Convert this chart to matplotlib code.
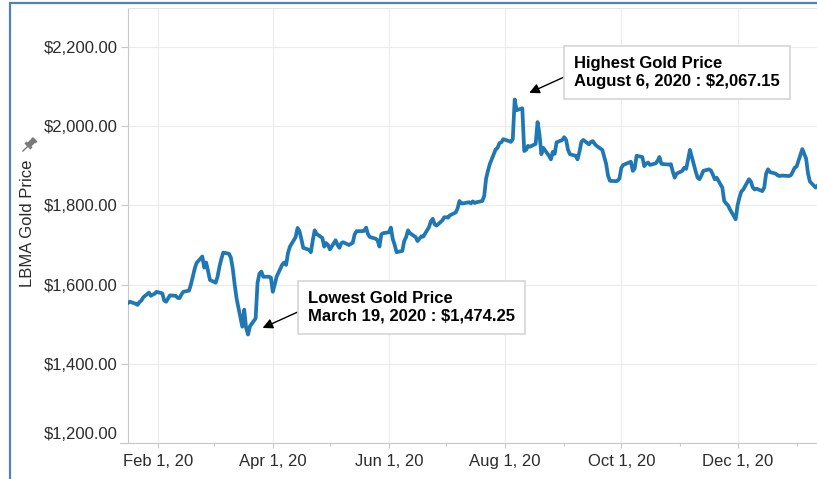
import matplotlib
matplotlib.use("Agg")
import matplotlib.pyplot as plt
import matplotlib.dates as mdates
from matplotlib.ticker import FixedLocator, FuncFormatter
from matplotlib.lines import Line2D
from matplotlib.patches import Rectangle
import pandas as pd

W, H, DPI = 817, 479, 100

plt.rcParams.update({
    "font.family": "sans-serif",
    "font.sans-serif": ["Liberation Sans", "Arial", "DejaVu Sans"],
    "font.size": 12,
    "text.color": "#333333",
    "xtick.color": "#c8c8c8",
    "ytick.color": "#c8c8c8",
    "xtick.labelcolor": "#2b2b2b",
    "ytick.labelcolor": "#2b2b2b",
})

# LBMA gold price (USD), one value per business day
jan_2020 = [1554, 1557, 1552, 1549, 1556, 1560, 1568, 1580, 1572, 1575, 1577, 1582]
feb_2020 = [1578, 1560, 1557, 1565, 1573, 1572, 1567, 1566, 1575, 1582,
            1585, 1600, 1620, 1640, 1655, 1671, 1643, 1656, 1635, 1612]
mar_2020 = [1605, 1620, 1645, 1665, 1681, 1678, 1668, 1640, 1600, 1565,
            1494, 1537, 1491, 1474.25, 1495, 1515, 1605, 1628, 1633, 1620,
            1620, 1618]
apr_2020 = [1582, 1600, 1620, 1651, 1656, 1650, 1680, 1696, 1720, 1743,
            1735, 1715, 1693, 1688, 1682, 1712, 1737, 1728, 1718, 1696,
            1705, 1700]
may_2020 = [1689, 1712, 1700, 1693, 1705, 1707, 1700, 1703, 1706, 1727,
            1735, 1735, 1736, 1744, 1727, 1720, 1716, 1712, 1696, 1727, 1730]
jun_2020 = [1732, 1744, 1715, 1700, 1682, 1685, 1710, 1720, 1737, 1730,
            1720, 1710, 1716, 1722, 1721, 1745, 1760, 1766, 1752, 1749,
            1762, 1770]
jul_2020 = [1770, 1769, 1775, 1782, 1792, 1811, 1805, 1805, 1808, 1805,
            1810, 1806, 1808, 1811, 1824, 1868, 1888, 1905, 1941, 1945,
            1957, 1959, 1967]
aug_2020 = [1962, 1960, 1967, 2067.15, 2040, 2045, 1937, 1940, 1950, 1948,
            1955, 2010, 1980, 1929, 1945, 1925, 1916, 1935, 1930, 1959, 1965]
sep_2020 = [1972, 1965, 1940, 1929, 1925, 1916, 1935, 1960, 1965, 1954,
            1960, 1962, 1955, 1950, 1940, 1922, 1905, 1875, 1862, 1861,
            1862, 1868]
oct_2020 = [1895, 1902, 1908, 1910, 1887, 1893, 1925, 1922, 1899, 1905,
            1908, 1902, 1906, 1912, 1922, 1905, 1904, 1903, 1904, 1885,
            1870, 1880]
nov_2020 = [1887, 1895, 1892, 1915, 1940, 1886, 1870, 1866, 1875, 1887,
            1891, 1888, 1878, 1866, 1870, 1845, 1811, 1805, 1800, 1790, 1765]
dec_2020 = [1800, 1820, 1835, 1840, 1866, 1860, 1845, 1840, 1842, 1836,
            1845, 1880, 1891, 1884, 1880, 1876, 1874, 1875, 1875, 1874,
            1876, 1885, 1895]
jan_2021 = [1898, 1942, 1930, 1918, 1880, 1860, 1845, 1850, 1855, 1850, 1840]

prices = (jan_2020 + feb_2020 + mar_2020 + apr_2020 + may_2020 + jun_2020 +
          jul_2020 + aug_2020 + sep_2020 + oct_2020 + nov_2020 + dec_2020 +
          jan_2021)
dates = pd.bdate_range("2020-01-16", "2021-01-15")
assert len(dates) == len(prices)

y_ticks = [1200, 1400, 1600, 1800, 2000, 2200]
low_date, low_price = pd.Timestamp("2020-03-19"), 1474.25
high_date, high_price = pd.Timestamp("2020-08-06"), 2067.15

fig = plt.figure(figsize=(W / DPI, H / DPI), dpi=DPI)
ax = fig.add_axes([127.7 / W, 1 - 443.3 / H, 1 - 127.7 / W, (443.3 - 8.3) / H])

ax.plot(dates, prices, color="#1f77b4", lw=2.7, solid_joinstyle="round", zorder=3)

ax.set_xlim(pd.Timestamp("2020-01-15 20:00"), pd.Timestamp("2021-01-11 17:00"))
ax.set_ylim(1200, 2297)

ax.yaxis.set_major_locator(FixedLocator(y_ticks))
ax.yaxis.set_major_formatter(FuncFormatter(lambda v, _: "" if v == 1200 else f"${v:,.2f}"))
ax.xaxis.set_major_locator(mdates.MonthLocator(bymonth=[2, 4, 6, 8, 10, 12]))
ax.xaxis.set_minor_locator(mdates.MonthLocator(bymonth=[1, 3, 5, 7, 9, 11]))
ax.xaxis.set_major_formatter(FuncFormatter(
    lambda v, _: (lambda d: f"{d:%b} {d.day}, {d:%y}")(mdates.num2date(v))))

ax.tick_params(axis="y", length=5, width=0.8, pad=2, labelsize=12)
ax.tick_params(axis="x", which="major", length=3.5, width=0.8, pad=4.5, labelsize=12)
ax.tick_params(axis="x", which="minor", length=2.5, width=0.8)

# Tableau keeps the bottom label inside the pane
ax.annotate("$1,200.00", xy=(0, 1200), xycoords=("axes fraction", "data"),
            xytext=(-7.3, 7.5), textcoords="offset points",
            ha="right", va="center_baseline", fontsize=12, color="#2b2b2b")

ax.grid(True, color="#ebebeb", lw=0.8, zorder=0)
ax.grid(False, which="minor")
ax.spines["right"].set_visible(False)
ax.spines["top"].set_color("#e4e4e4")
ax.spines["left"].set_color("#c8c8c8")
ax.spines["bottom"].set_color("#c8c8c8")
for s in ax.spines.values():
    s.set_linewidth(0.8)
ax.add_line(Line2D([-7.3 / 689.3, 0], [0, 0], transform=ax.transAxes,
                   color="#c8c8c8", lw=0.8, clip_on=False))

box = dict(boxstyle="square,pad=0.6", fc="white", ec="#d6d6d6", lw=1.2)
arrow = dict(arrowstyle="-|>", color="black", lw=1.0, mutation_scale=15,
             relpos=(0, 0.5), shrinkA=0, shrinkB=11.5)
ax.annotate("Lowest Gold Price\nMarch 19, 2020 : $1,474.25",
            xy=(low_date, low_price), xytext=(43, 19.5), textcoords="offset points",
            ha="left", va="center", fontweight="bold", color="black",
            bbox=box, arrowprops=arrow, zorder=5)
ax.annotate("Highest Gold Price\nAugust 6, 2020 : $2,067.15",
            xy=(high_date, high_price), xytext=(43, 19.5), textcoords="offset points",
            ha="left", va="center", fontweight="bold", color="black",
            bbox=box, arrowprops=arrow, zorder=5)

fig.text(27.5 / W, 1 - 223 / H, "LBMA Gold Price", rotation=90,
         ha="center", va="center", fontsize=12, color="#2b2b2b")

# small pin icon next to the axis title
def px(x, y):
    return x / W, 1 - y / H

pin = "#7a7a7a"
for (x0, y0), (x1, y1), lw in [((33.5, 140.5), (29, 145), 4.0),
                                ((25.5, 142.5), (31.5, 148.5), 2.2),
                                ((32, 138), (36.5, 142.5), 2.0),
                                ((28, 146), (22.5, 151.5), 1.0)]:
    (a, b), (c, d) = px(x0, y0), px(x1, y1)
    fig.add_artist(Line2D([a, c], [b, d], transform=fig.transFigure,
                          color=pin, lw=lw, solid_capstyle="butt"))

# selection frame of the screenshot
fig.add_artist(Rectangle(px(10, 600), 900 / W, 597 / H, transform=fig.transFigure,
                         fill=False, ec="#4f81bd", lw=1.6, clip_on=False))

fig.savefig("out.png", dpi=DPI)
